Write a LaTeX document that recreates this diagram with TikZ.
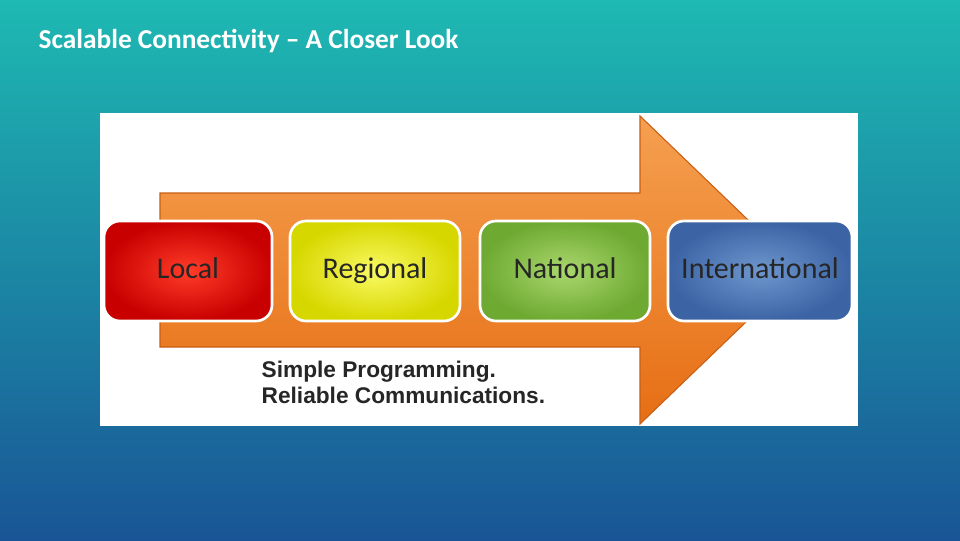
\documentclass[tikz,border=0pt]{standalone}
\usepackage{fontspec}
\setmainfont{Carlito}
\newfontfamily\arialf{Liberation Sans}
\begin{document}
\begin{tikzpicture}[x=0.75pt,y=-0.75pt,
  stage/.style={draw=white,line width=2pt,rounded corners=12pt,minimum width=#1*0.75pt,minimum height=100*0.75pt,font=\fontsize{22.5}{26}\selectfont,text=black!85,text height=14pt,text depth=3pt},
]
\useasboundingbox (0,0) rectangle (960,540);
\shade[top color={rgb,255:red,30;green,185;blue,178},bottom color={rgb,255:red,25;green,85;blue,150}] (0,0) rectangle (960,540);
\node[anchor=west,text=white,font=\bfseries\fontsize{20.5}{24}\selectfont] (title) at (34,41) {Scalable Connectivity -- A Closer Look};
\fill[white] (100,113) rectangle (858,426);
\shade[top color={rgb,255:red,245;green,160;blue,80},bottom color={rgb,255:red,230;green,110;blue,20},draw={rgb,255:red,200;green,95;blue,20},line width=0.8pt]
 (160,193) -- (640,193) -- (640,116) -- (800,270) -- (640,424) -- (640,347) -- (160,347) -- cycle;
\node[stage=168,inner color={rgb,255:red,255;green,60;blue,40},outer color={rgb,255:red,200;green,0;blue,0}] (loc) at (188,271) {Local};
\node[stage=170,inner color={rgb,255:red,250;green,250;blue,100},outer color={rgb,255:red,215;green,215;blue,0}] (reg) at (375,271) {Regional};
\node[stage=170,inner color={rgb,255:red,170;green,215;blue,110},outer color={rgb,255:red,110;green,170;blue,50}] (nat) at (565,271) {National};
\node[stage=184,inner color={rgb,255:red,110;green,150;blue,205},outer color={rgb,255:red,60;green,100;blue,165}] (int) at (760,271) {International};
\node[anchor=north west,align=left,font=\arialf\bfseries\fontsize{17}{19.5}\selectfont,text=black!85] (txt) at (257,356) {Simple Programming.\\Reliable Communications.};
\end{tikzpicture}
\end{document}
